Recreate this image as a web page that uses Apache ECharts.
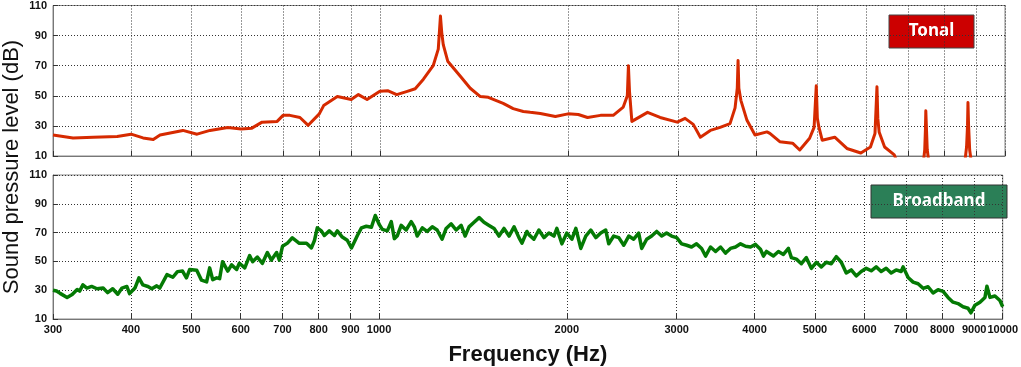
<!DOCTYPE html>
<html>
<head>
<meta charset="utf-8">
<script src="https://cdn.jsdelivr.net/npm/echarts@6/dist/echarts.min.js"></script>
<style>
  html, body { margin: 0; padding: 0; background: #fff; }
  #chart { width: 1021px; height: 367px; }
</style>
</head>
<body>
<div id="chart"></div>
<script>
// tick positions (Hz) and levels (dB)
var freqTicks = [300, 400, 500, 600, 700, 800, 900, 1000, 2000, 3000, 4000, 5000, 6000, 7000, 8000, 9000, 10000];
var levelTicks = [10, 30, 50, 70, 90, 110];

// tonal spectrum (red)
var tonalFreq = [300, 323, 348, 380, 400, 418, 434, 445, 484, 510, 535, 571, 600, 624, 648, 685, 700, 718, 745, 768,
  800, 813, 855, 900, 924, 954, 1000, 1029, 1064, 1103, 1139, 1174, 1217, 1240, 1250, 1256, 1263, 1284, 1345, 1395,
  1448, 1491, 1575, 1634, 1696, 1740, 1806, 1909, 2000, 2077, 2149, 2254, 2362, 2451, 2488, 2498, 2508, 2530, 2680, 2807,
  2990, 3078, 3172, 3256, 3378, 3502, 3632, 3700, 3730, 3741, 3752, 3780, 3866, 3982, 4161, 4206, 4362, 4573, 4695, 4869,
  4950, 4990, 5010, 5040, 5100, 5341, 5586, 5880, 6092, 6195, 6240, 6260, 6290, 6418, 6652, 6720, 7400, 7440, 7460, 7470,
  7485, 7510, 7560, 8620, 8680, 8710, 8725, 8745, 8780, 8840, 10000];
var tonalLevel = [24, 22, 22.5, 23, 24.5, 22, 21, 24, 27, 24.5, 27, 29, 28, 28.5, 32.5, 33, 37, 37, 35.6, 30.4,
  38, 43.5, 49.5, 47.5, 50.8, 47.5, 53, 53.4, 50.8, 52.8, 54.7, 61, 70, 81, 103, 92, 84, 73, 63, 55,
  49.5, 49, 45, 41.5, 39.6, 39, 38.3, 36.3, 38, 37.6, 35.6, 37, 37, 42.5, 50, 70, 53, 33, 39, 35.6,
  32.5, 35, 31, 22.5, 27, 29, 31.5, 42, 55, 73.5, 55, 47, 33.7, 24, 26, 25, 19.5, 18.5, 14, 21.8,
  29, 56.7, 35, 29, 20.5, 22.5, 15, 12, 16, 25, 56, 35, 26, 16, 10.7, 6, 5, 14, 28, 40,
  30, 14, 5, 5, 16, 30, 45.5, 30, 14, 5, 5];

// broadband spectrum (green)
var broadFreq = [300, 304, 308, 316, 322, 328, 331, 335, 340, 346, 353, 361, 367, 374, 381, 387, 394, 398, 406, 412,
  418, 426, 432, 440, 445, 457, 467, 475, 484, 491, 497, 510, 519, 529, 535, 541, 549, 555, 561, 572,
  580, 591, 597, 609, 620, 627, 638, 650, 662, 672, 685, 692, 700, 713, 718, 726, 745, 765, 779, 788,
  796, 808, 817, 832, 848, 857, 873, 889, 903, 913, 923, 937, 954, 972, 986, 1001, 1012, 1031, 1046, 1058,
  1069, 1085, 1105, 1126, 1139, 1151, 1173, 1194, 1217, 1239, 1262, 1281, 1305, 1329, 1354, 1374, 1394, 1420, 1447, 1473,
  1501, 1529, 1557, 1586, 1616, 1646, 1676, 1695, 1726, 1739, 1771, 1804, 1838, 1872, 1907, 1928, 1964, 2000, 2038, 2068,
  2106, 2145, 2185, 2226, 2267, 2309, 2335, 2378, 2423, 2468, 2514, 2560, 2608, 2637, 2686, 2736, 2787, 2839, 2891, 2945,
  3000, 3056, 3113, 3170, 3229, 3290, 3338, 3400, 3464, 3528, 3594, 3660, 3729, 3798, 3869, 3941, 4014, 4088, 4134, 4180,
  4289, 4369, 4450, 4533, 4583, 4668, 4755, 4843, 4933, 5025, 5118, 5213, 5310, 5409, 5510, 5612, 5716, 5823, 5931, 6041,
  6154, 6268, 6384, 6503, 6624, 6747, 6873, 6923, 7052, 7183, 7317, 7453, 7591, 7733, 7876, 8023, 8172, 8324, 8479, 8636,
  8797, 8894, 9027, 9195, 9366, 9435, 9540, 9717, 9898, 10000];
var broadLevel = [30, 29.4, 27.8, 25, 27, 30.4, 29.4, 33.7, 31.5, 32.6, 31, 31.5, 28.3, 31, 27.2, 31.5, 32.6, 27.6, 31.5, 38.6,
  33.7, 32.6, 31, 33, 31.5, 40.8, 39, 42.9, 43.3, 38.6, 44.4, 43.8, 37, 35.8, 45.5, 37.3, 38.6, 38, 49.8, 43.3,
  47.6, 44.4, 48.7, 45.5, 54, 49.8, 53, 48.7, 56.2, 50.9, 56.2, 50.9, 60.5, 62.7, 61.5, 66.4, 62.6, 62.6, 59.4, 64.7,
  73.3, 71.2, 68, 71.2, 68, 71.2, 66.9, 64.7, 59.4, 63.6, 68, 73.3, 74.4, 73.7, 81.9, 75.5, 72.2, 71.2, 77.6, 65.8,
  67.6, 75, 71.8, 77.6, 74, 67.6, 73.3, 70.8, 74, 71.8, 65.4, 72.9, 76.1, 71.8, 75, 67.6, 74, 77.2, 80.4, 77.2,
  75, 72.9, 67.6, 72.9, 67.6, 74, 66.5, 62.7, 70.8, 68.6, 65.4, 71.8, 66.5, 69.7, 67.6, 72.9, 62.2, 69.7, 65.4, 72.9,
  59, 67.6, 71.8, 66.5, 69.7, 71.8, 62.2, 67.6, 66.5, 61.2, 67.6, 65.4, 69.7, 59, 65.4, 67.6, 70.8, 67.6, 69.7, 67.6,
  66.5, 62.2, 61.2, 60, 62.2, 59, 53.7, 60, 56.9, 60, 55.8, 59, 60, 62.2, 60.5, 60, 61.8, 58.4, 53.7, 56.9,
  53.7, 56.9, 54.8, 59, 52.6, 51.6, 48.4, 52.6, 45.2, 49.4, 46.2, 49.4, 48.4, 53.3, 49.4, 42, 44.1, 39.9, 43, 45.2,
  43.5, 46.2, 43, 45.2, 42, 44.1, 43, 46.2, 38.8, 35.6, 34.5, 31.3, 32.4, 28.1, 30.3, 29.2, 25, 21.7, 20.7, 18.5,
  17.5, 14.3, 19.6, 21.7, 25, 32.8, 25, 26, 22.8, 18.5];

function toXY(freqs, levels) {
  return freqs.map(function (f, i) { return [Math.log10(f), levels[i]]; });
}

var logTicks = freqTicks.map(function (f) { return Math.log10(f); });
var xMin = Math.log10(300), xMax = Math.log10(10000);
var labelFont = { color: '#111', fontSize: 11, fontWeight: 'bold', fontFamily: 'Liberation Sans' };
var gridLine = { show: true, lineStyle: { color: '#333', width: 1, type: [1, 2] } };

function xAxisOf(idx, showLabels) {
  return {
    type: 'value', gridIndex: idx, min: xMin, max: xMax,
    axisLine: { show: true, lineStyle: { color: '#777' } },
    axisTick: { show: true, inside: true, length: 5, customValues: logTicks, lineStyle: { color: '#333' } },
    axisLabel: Object.assign({
      show: showLabels, margin: 5, customValues: logTicks,
      formatter: function (v) { return String(Math.round(Math.pow(10, v))); }
    }, labelFont),
    splitLine: gridLine,
    name: showLabels ? 'Frequency (Hz)' : '',
    nameLocation: 'middle', nameGap: 25,
    nameTextStyle: { color: '#111', fontSize: 22, fontWeight: 'bold', fontFamily: 'Liberation Sans' }
  };
}

function yAxisOf(idx) {
  return {
    type: 'value', gridIndex: idx, min: 10, max: 110,
    axisLine: { show: true, lineStyle: { color: '#777' } },
    axisTick: { show: true, inside: true, length: 5, customValues: levelTicks, lineStyle: { color: '#333' } },
    axisLabel: Object.assign({ margin: 6, customValues: levelTicks }, labelFont),
    splitLine: gridLine
  };
}

var chart = echarts.init(document.getElementById('chart'), null, { renderer: 'canvas' });
var option = {
  backgroundColor: '#fff',
  animation: false,
  grid: [
    { left: 53, right: 16, top: 4, height: 152, show: true, borderColor: '#888', borderWidth: 1, backgroundColor: '#fff' },
    { left: 53, right: 16, top: 175, height: 155, show: true, borderColor: '#888', borderWidth: 1, backgroundColor: '#fff' }
  ],
  xAxis: [xAxisOf(0, false), xAxisOf(1, true)],
  yAxis: [yAxisOf(0), yAxisOf(1)],
  series: [
    {
      name: 'Tonal', type: 'line', xAxisIndex: 0, yAxisIndex: 0,
      data: toXY(tonalFreq, tonalLevel),
      showSymbol: false, clip: true,
      lineStyle: { color: '#d62a00', width: 3, join: 'round' }
    },
    {
      name: 'Broadband', type: 'line', xAxisIndex: 1, yAxisIndex: 1,
      data: toXY(broadFreq, broadLevel),
      showSymbol: false, clip: true,
      lineStyle: { color: '#047a04', width: 3.5, join: 'round' }
    }
  ],
  graphic: [
    {
      type: 'text', x: 12, y: 167, rotation: Math.PI / 2,
      style: {
        text: 'Sound pressure level (dB)', fill: '#111', align: 'center', verticalAlign: 'middle',
        font: '22px "Liberation Sans"'
      }
    },
    {
      type: 'rect', x: 889, y: 15,
      shape: { x: 0, y: 0, width: 85, height: 33 },
      style: { fill: '#cc0000', stroke: '#444', lineWidth: 1 },
      textContent: { style: { text: 'Tonal', fill: '#fff', stroke: 'transparent', font: 'bold 17px "Noto Sans"' } },
      textConfig: { position: 'inside' }
    },
    {
      type: 'rect', x: 871, y: 185,
      shape: { x: 0, y: 0, width: 136, height: 33 },
      style: { fill: '#2b7f57', stroke: '#333', lineWidth: 1 },
      textContent: { style: { text: 'Broadband', fill: '#fff', stroke: 'transparent', font: 'bold 17px "Noto Sans"' } },
      textConfig: { position: 'inside' }
    }
  ]
};
chart.setOption(option);
</script>
</body>
</html>
